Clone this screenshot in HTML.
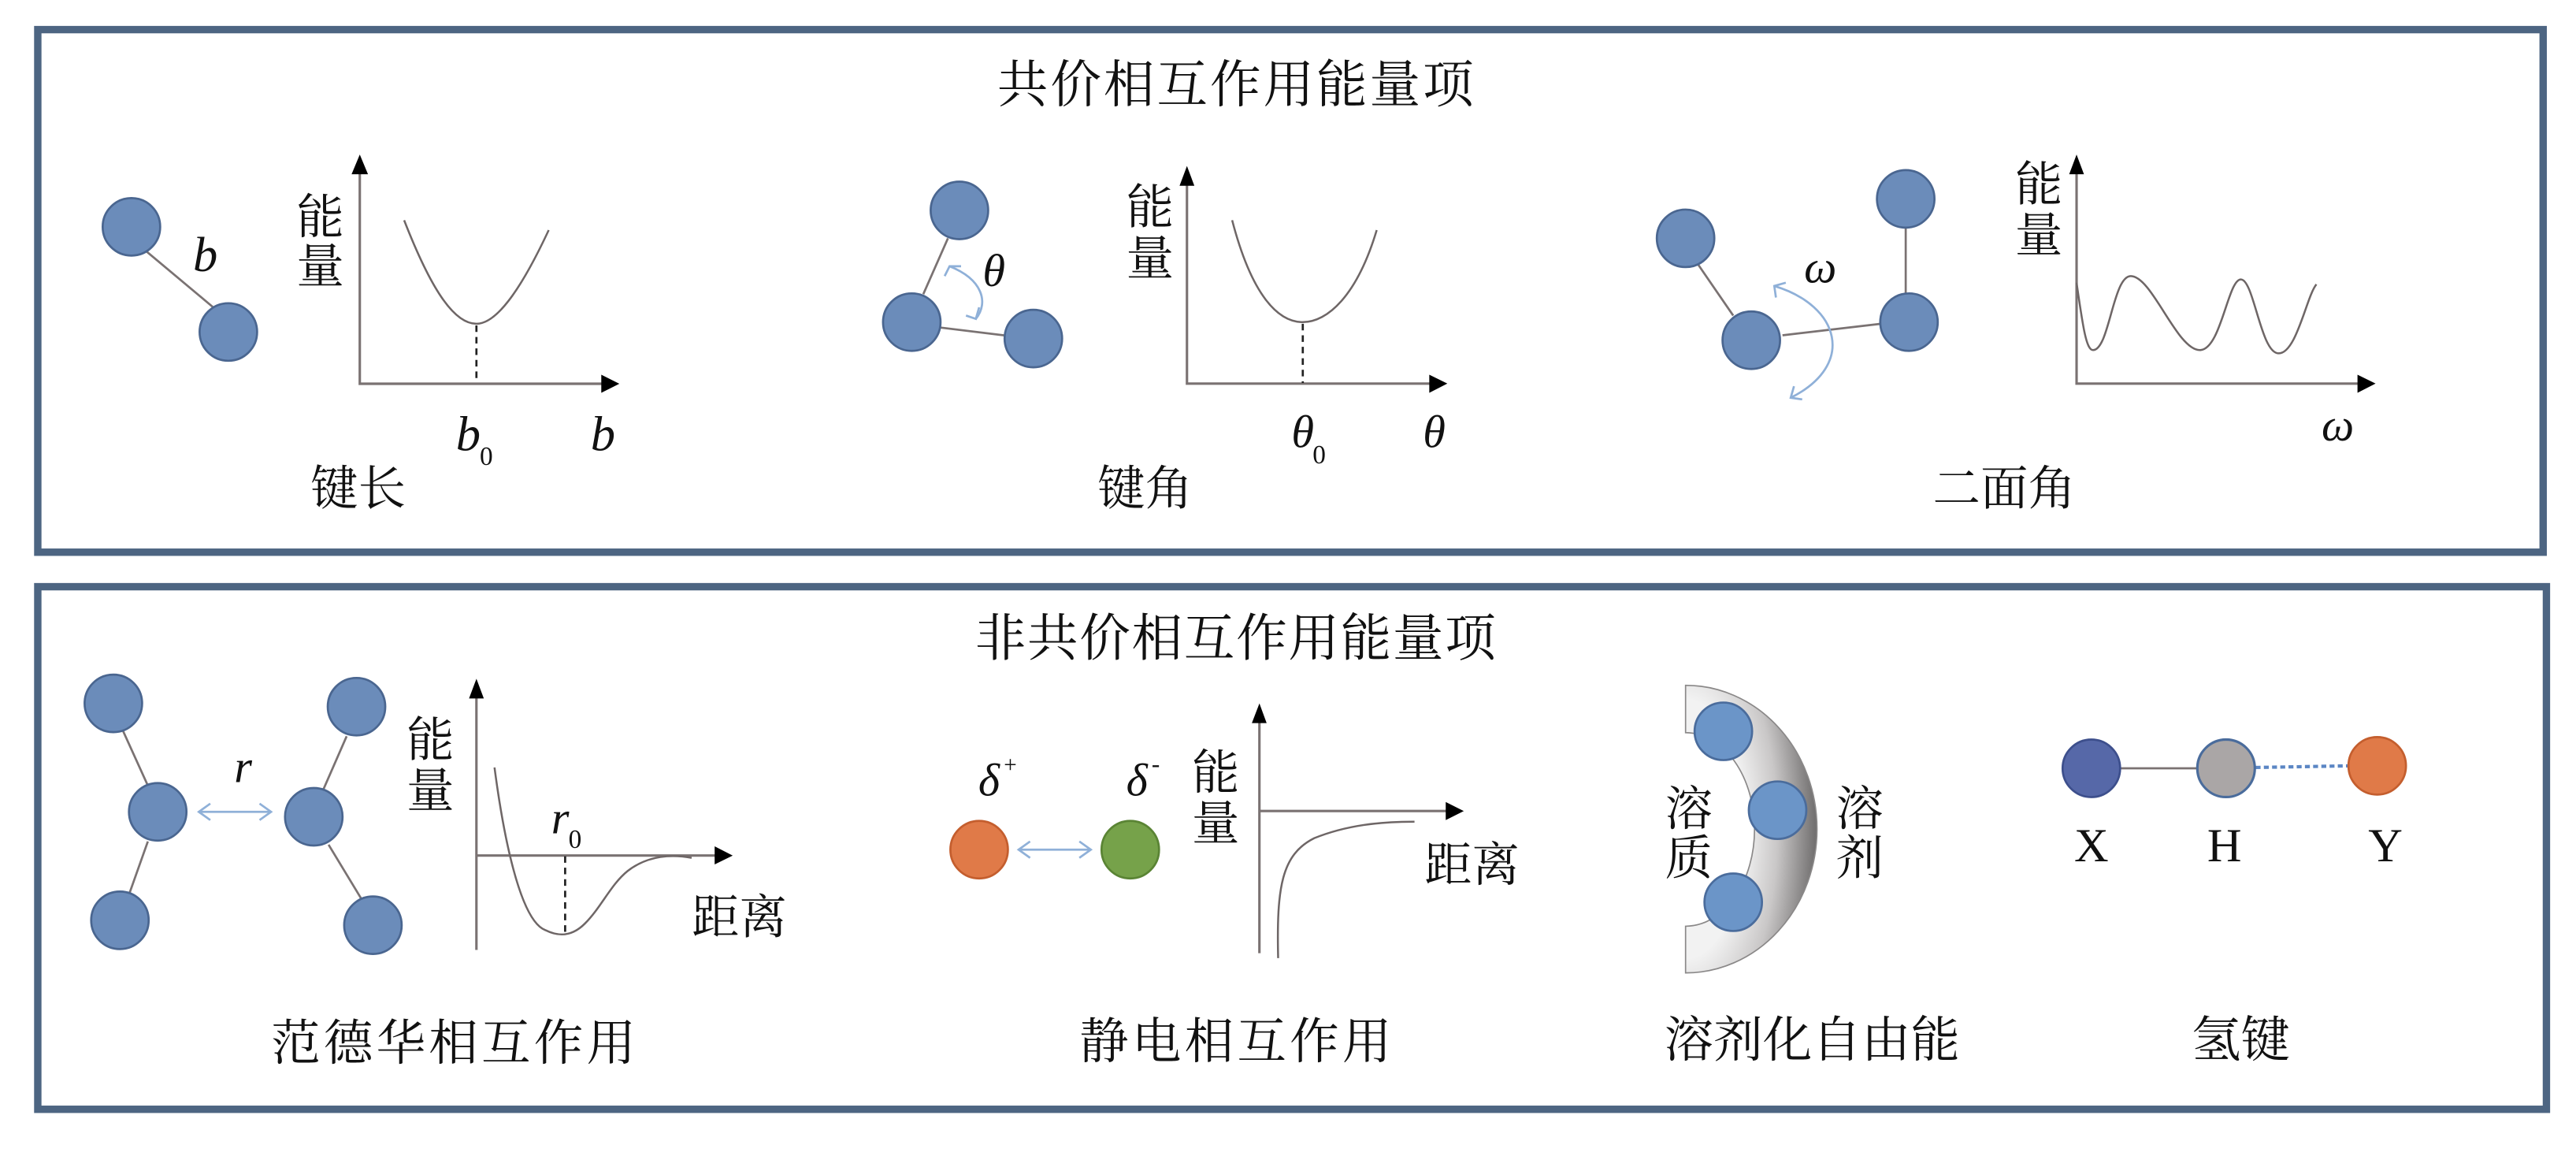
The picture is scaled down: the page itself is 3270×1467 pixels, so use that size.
<!DOCTYPE html>
<html><head><meta charset="utf-8"><style>
html,body{margin:0;padding:0;background:#fff;}
svg{display:block;}
.cj{font-family:"Liberation Serif","Noto Serif CJK SC",serif;fill:#111;}
.it{font-family:"Liberation Serif",serif;font-style:italic;fill:#111;}
.rm{font-family:"Liberation Serif",serif;fill:#111;}
</style></head><body>
<svg width="3270" height="1467" viewBox="0 0 1568 703.4" xmlns="http://www.w3.org/2000/svg">
<defs>
<radialGradient id="rg" cx="0" cy="0.5" r="1" fx="0" fy="0.5">
<stop offset="0.45" stop-color="#f2f2f2"/><stop offset="0.7" stop-color="#c9c7c7"/><stop offset="1" stop-color="#6e6c6c"/>
</radialGradient>
</defs>
<rect width="1568" height="703.4" fill="#fff"/>
<rect x="23" y="18" width="1525" height="318" fill="none" stroke="#4d6582" stroke-width="4.5"/>
<rect x="23" y="357" width="1527" height="318" fill="none" stroke="#4d6582" stroke-width="4.5"/>

<text class="cj" x="752" y="62" font-size="31" text-anchor="middle" textLength="290">共价相互作用能量项</text>

<g stroke="#7a7272" stroke-width="1.3" fill="none">
<line x1="88" y1="152" x2="131" y2="188"/>
<line x1="577" y1="145" x2="562" y2="179"/>
<line x1="570" y1="199" x2="627" y2="206"/>
<line x1="1033" y1="160" x2="1055" y2="192"/>
<line x1="1085" y1="204" x2="1145" y2="197"/>
<line x1="1160" y1="138" x2="1160" y2="180"/>
<line x1="75" y1="445" x2="90" y2="478"/>
<line x1="90" y1="512" x2="79" y2="543"/>
<line x1="211" y1="448" x2="197" y2="480"/>
<line x1="200" y1="514" x2="220" y2="547"/>
<line x1="1290" y1="467.5" x2="1338" y2="467.5"/>
</g>
<line x1="1373" y1="467" x2="1430" y2="466" stroke="#5b86c4" stroke-width="2" stroke-dasharray="3,2"/>

<g fill="#6b8cba" stroke="#4a6690" stroke-width="1.3">
<circle cx="80" cy="138" r="17.5"/><circle cx="139" cy="202" r="17.5"/>
<circle cx="584" cy="128" r="17.5"/><circle cx="555" cy="196" r="17.5"/><circle cx="629" cy="206" r="17.5"/>
<circle cx="1026" cy="145" r="17.5"/><circle cx="1066" cy="207" r="17.5"/><circle cx="1162" cy="196" r="17.5"/><circle cx="1160" cy="121" r="17.5"/>
<circle cx="69" cy="428" r="17.5"/><circle cx="96" cy="494" r="17.5"/><circle cx="73" cy="560" r="17.5"/>
<circle cx="217" cy="430" r="17.5"/><circle cx="191" cy="497" r="17.5"/><circle cx="227" cy="563" r="17.5"/>
</g>
<circle cx="596" cy="517" r="17.5" fill="#e07a48" stroke="#c45e2e" stroke-width="1.3"/>
<circle cx="688" cy="517" r="17.5" fill="#76a24a" stroke="#5a8434" stroke-width="1.3"/>
<circle cx="1273" cy="467.5" r="17.5" fill="#5668a8" stroke="#3d4f8c" stroke-width="1.3"/>
<circle cx="1355" cy="467.5" r="17.5" fill="#aaa6a6" stroke="#4a6c9c" stroke-width="1.5"/>
<circle cx="1447" cy="466" r="17.5" fill="#e07a48" stroke="#c45e2e" stroke-width="1.3"/>

<path d="M1026,417 A80,87.5 0 0 1 1026,592 L1026,563.6 A42,58.9 0 0 0 1026,445.8 Z" fill="url(#rg)" stroke="#8a8888" stroke-width="0.8"/>
<g fill="#6b95c8" stroke="#4a6c9c" stroke-width="1.3">
<circle cx="1049" cy="445" r="17.5"/><circle cx="1082" cy="493" r="17.5"/><circle cx="1055" cy="549" r="17.5"/>
</g>

<g stroke="#7a7272" stroke-width="1.5" fill="none">
<polyline points="219,103 219,233.5 368,233.5"/>
<polyline points="722.5,110 722.5,233.4 872,233.4"/>
<polyline points="1264,103 1264,233.4 1437,233.4"/>
<polyline points="290,422 290,578"/><line x1="290" y1="520.6" x2="438" y2="520.6"/>
<polyline points="766.6,438 766.6,580"/><line x1="766.6" y1="493.5" x2="882" y2="493.5"/>
</g>
<g fill="#000">
<polygon points="219,94 214,106 224,106"/><polygon points="377,233.5 366,228 366,239"/>
<polygon points="722.5,101 718,113 727,113"/><polygon points="881,233.4 870,228 870,239"/>
<polygon points="1264,94 1259.5,106 1268.5,106"/><polygon points="1446,233.4 1435,228 1435,239"/>
<polygon points="290,413 285.5,425 294.5,425"/><polygon points="446,520.6 435,515 435,526"/>
<polygon points="766.6,428 762,440 771,440"/><polygon points="891,493.5 880,488 880,499"/>
</g>
<g stroke="#6e6666" stroke-width="1.2" fill="none">
<path d="M246,134 C262,175 276,197 290,197 C304,197 320,170 334,140"/>
<path d="M750,134 C762,180 778,196 793,196 C808,196 826,180 838,140"/>
<path d="M1264,172 C1268,200 1270,213 1274,213 C1284,213 1286,168 1297,168 C1310,168 1325,213 1339,213 C1352,213 1356,170 1364,170 C1372,170 1376,215 1387,215 C1398,215 1404,180 1410,173"/>
<path d="M301,467 C306,505 316,560 332,566 C340,570 348,570 356,562 C366,552 372,538 382,530 C395,520 410,520 421,522"/>
<path d="M778,583 C777,540 780,520 800,510 C820,502 840,500 861,500"/>
</g>
<g stroke="#222" stroke-width="1.3" stroke-dasharray="4,3">
<line x1="290" y1="198" x2="290" y2="233"/>
<line x1="793" y1="197" x2="793" y2="233"/>
<line x1="344" y1="521" x2="344" y2="569"/>
</g>

<g stroke="#8fb0d8" stroke-width="1.3" fill="none">
<path d="M578,162 C598,170 602,184 594,194"/>
<polyline points="575,168 578,162 585,162"/><polyline points="588,192 594,194 596,187"/>
<path d="M1080,174 C1120,186 1130,222 1090,242"/>
<polyline points="1081,181 1080,174 1087,172"/><polyline points="1097,243 1090,242 1092,235"/>
<line x1="122" y1="494" x2="164" y2="494"/>
<polyline points="128,489 121,494 128,499"/><polyline points="158,489 165,494 158,499"/>
<line x1="621" y1="517" x2="663" y2="517"/>
<polyline points="627,512 620,517 627,522"/><polyline points="657,512 664,517 657,522"/>
</g>

<text class="cj" x="195" y="142" font-size="29" text-anchor="middle">能</text>
<text class="cj" x="195" y="172" font-size="29" text-anchor="middle">量</text>
<text class="it" x="125" y="165" font-size="30" text-anchor="middle">b</text>
<text class="it" x="285" y="274" font-size="30" text-anchor="middle">b</text>
<text class="rm" x="292" y="283" font-size="16">0</text>
<text class="it" x="367" y="274" font-size="30" text-anchor="middle">b</text>
<text class="cj" x="218" y="307" font-size="29" text-anchor="middle">键长</text>

<text class="cj" x="700" y="136" font-size="29" text-anchor="middle">能</text>
<text class="cj" x="700" y="167" font-size="29" text-anchor="middle">量</text>
<text class="it" x="605" y="174" font-size="28" text-anchor="middle">θ</text>
<text class="it" x="793" y="272" font-size="28" text-anchor="middle">θ</text>
<text class="rm" x="799" y="282" font-size="16">0</text>
<text class="it" x="873" y="272" font-size="28" text-anchor="middle">θ</text>
<text class="cj" x="697" y="307" font-size="29" text-anchor="middle">键角</text>

<text class="cj" x="1241" y="122" font-size="29" text-anchor="middle">能</text>
<text class="cj" x="1241" y="153" font-size="29" text-anchor="middle">量</text>
<text class="it" x="1108" y="172" font-size="28" text-anchor="middle">ω</text>
<text class="it" x="1423" y="268" font-size="28" text-anchor="middle">ω</text>
<text class="cj" x="1220" y="307" font-size="29" text-anchor="middle">二面角</text>

<text class="cj" x="752" y="399" font-size="31" text-anchor="middle" textLength="317">非共价相互作用能量项</text>
<text class="it" x="148" y="476" font-size="28" text-anchor="middle">r</text>
<text class="cj" x="262" y="460" font-size="29" text-anchor="middle">能</text>
<text class="cj" x="262" y="491" font-size="29" text-anchor="middle">量</text>
<text class="it" x="341" y="507" font-size="28" text-anchor="middle">r</text>
<text class="rm" x="346" y="516" font-size="16">0</text>
<text class="cj" x="450" y="568" font-size="29" text-anchor="middle">距离</text>
<text class="cj" x="276" y="645" font-size="30" text-anchor="middle" textLength="222">范德华相互作用</text>

<text class="it" x="602" y="484" font-size="28" text-anchor="middle">δ</text>
<text class="rm" x="611" y="470" font-size="14">+</text>
<text class="it" x="692" y="484" font-size="28" text-anchor="middle">δ</text>
<text class="rm" x="701" y="470" font-size="15">-</text>
<text class="cj" x="740" y="480" font-size="29" text-anchor="middle">能</text>
<text class="cj" x="740" y="511" font-size="29" text-anchor="middle">量</text>
<text class="cj" x="896" y="536" font-size="29" text-anchor="middle">距离</text>
<text class="cj" x="752" y="644" font-size="30" text-anchor="middle" textLength="190">静电相互作用</text>

<text class="cj" x="1028" y="502" font-size="29" text-anchor="middle">溶</text>
<text class="cj" x="1028" y="532" font-size="29" text-anchor="middle">质</text>
<text class="cj" x="1132" y="502" font-size="29" text-anchor="middle">溶</text>
<text class="cj" x="1132" y="532" font-size="29" text-anchor="middle">剂</text>
<text class="cj" x="1103" y="643" font-size="30" text-anchor="middle" textLength="180">溶剂化自由能</text>

<text class="rm" x="1273" y="524" font-size="29" text-anchor="middle">X</text>
<text class="rm" x="1354" y="524" font-size="29" text-anchor="middle">H</text>
<text class="rm" x="1452" y="524" font-size="29" text-anchor="middle">Y</text>
<text class="cj" x="1364" y="643" font-size="30" text-anchor="middle">氢键</text>
</svg>
</body></html>
